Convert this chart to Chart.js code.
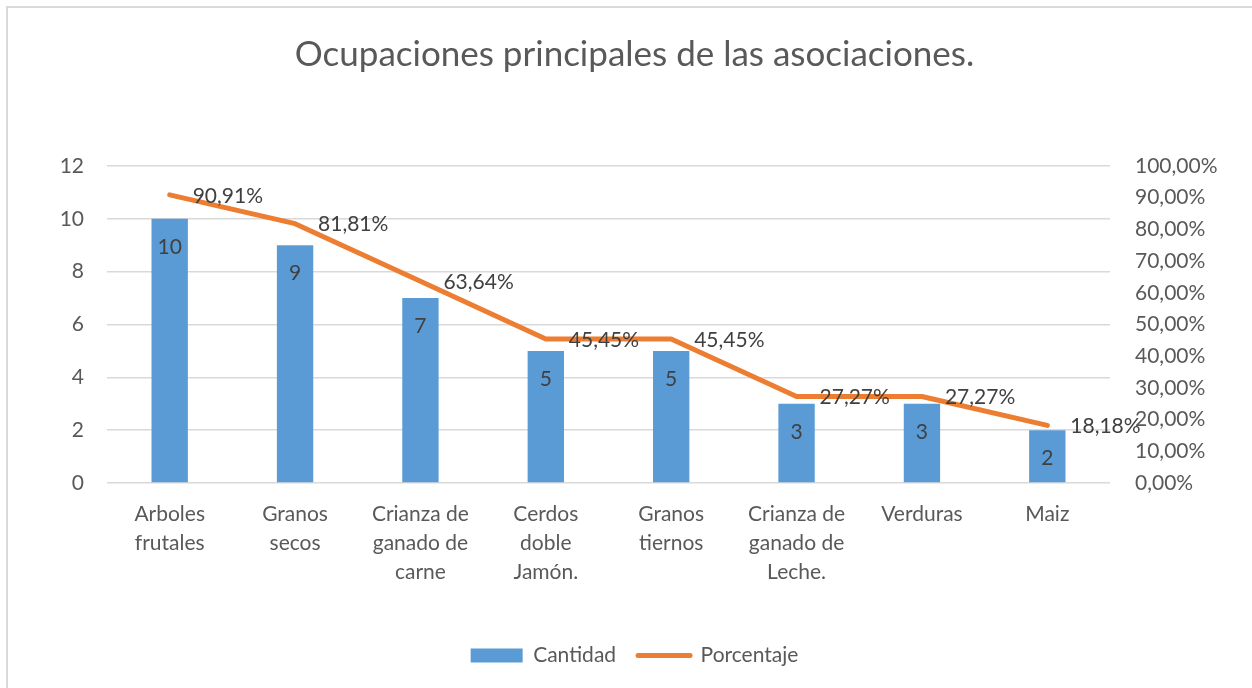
<!DOCTYPE html>
<html>
<head>
<meta charset="utf-8">
<script src="https://cdn.jsdelivr.net/npm/chart.js@4.4.1/dist/chart.umd.min.js"></script>
<style>
  html, body { margin: 0; padding: 0; background: #fff; overflow: hidden; }
  #frame {
    position: absolute; left: 6px; top: 6px; width: 1400px; height: 800px;
    border-left: 2px solid #d9d9d9; border-top: 2px solid #d9d9d9;
  }
  #wrap { position: absolute; left: 0; top: 0; width: 1252px; height: 688px; }
</style>
</head>
<body>
<div id="frame"></div>
<div id="wrap"><canvas id="chart" width="1252" height="688"></canvas></div>
<script>
  // ── Data ──
  var categories = [
    ["Arboles", "frutales"],
    ["Granos", "secos"],
    ["Crianza de", "ganado de", "carne"],
    ["Cerdos", "doble", "Jamón."],
    ["Granos", "tiernos"],
    ["Crianza de", "ganado de", "Leche."],
    ["Verduras"],
    ["Maiz"]
  ];
  var cantidad = [10, 9, 7, 5, 5, 3, 3, 2];
  var porcentaje = [90.91, 81.81, 63.64, 45.45, 45.45, 27.27, 27.27, 18.18];

  var FONT = "Lato, 'Open Sans', sans-serif";
  var TEXT = "#595959";
  var BLUE = "#5b9bd5";
  var ORANGE = "#ed7d31";

  function pct(v) {
    return v.toFixed(2).replace(".", ",") + "%";
  }

  // value labels on bars and line points
  var valueLabels = {
    id: "valueLabels",
    afterDatasetsDraw: function (chart) {
      var ctx = chart.ctx;
      ctx.save();
      ctx.font = "21px " + FONT;
      ctx.fillStyle = "#404040";
      ctx.textBaseline = "middle";

      var bars = chart.getDatasetMeta(0);
      ctx.textAlign = "center";
      bars.data.forEach(function (el, i) {
        ctx.fillText(String(cantidad[i]), el.x, el.y + 28);
      });

      var line = chart.getDatasetMeta(1);
      ctx.textAlign = "left";
      line.data.forEach(function (el, i) {
        ctx.fillText(pct(porcentaje[i]), el.x + 23, el.y + 1);
      });
      ctx.restore();
    }
  };

  new Chart(document.getElementById("chart"), {
    data: {
      labels: categories,
      datasets: [
        {
          type: "bar",
          label: "Cantidad",
          data: cantidad,
          backgroundColor: BLUE,
          borderWidth: 0,
          yAxisID: "y",
          categoryPercentage: 1,
          barPercentage: 0.29,
          order: 2
        },
        {
          type: "line",
          label: "Porcentaje",
          data: porcentaje,
          borderColor: ORANGE,
          backgroundColor: ORANGE,
          borderWidth: 5,
          borderCapStyle: "round",
          borderJoinStyle: "round",
          pointRadius: 0,
          tension: 0,
          yAxisID: "y1",
          order: 1
        }
      ]
    },
    options: {
      responsive: false,
      animation: false,
      layout: { padding: { left: 17, right: 0, top: 0, bottom: 12 } },
      plugins: {
        title: {
          display: true,
          text: "Ocupaciones principales de las asociaciones.",
          color: TEXT,
          font: { family: FONT, size: 35, weight: "normal", lineHeight: 1.2 },
          padding: { top: 34, bottom: 90 }
        },
        legend: {
          position: "bottom",
          labels: {
            color: TEXT,
            font: { family: FONT, size: 21 },
            usePointStyle: true,
            pointStyleWidth: 52,
            boxHeight: 14,
            padding: 22,
            generateLabels: function (chart) {
              return [
                { text: "Cantidad", fillStyle: BLUE, strokeStyle: BLUE, lineWidth: 0,
                  pointStyle: "rect", datasetIndex: 0, fontColor: TEXT },
                { text: "Porcentaje", fillStyle: ORANGE, strokeStyle: ORANGE, lineWidth: 5,
                  lineCap: "round", pointStyle: "line", datasetIndex: 1, fontColor: TEXT }
              ];
            }
          }
        },
        tooltip: { enabled: false }
      },
      scales: {
        x: {
          grid: { display: false, drawTicks: false },
          border: { display: false },
          ticks: {
            color: TEXT,
            font: { family: FONT, size: 21, lineHeight: 1.38 },
            padding: 17,
            maxRotation: 0,
            autoSkip: false
          },
          afterFit: function (scale) { scale.height = 140; }
        },
        y: {
          position: "left",
          min: 0,
          max: 12,
          grid: { color: "#d9d9d9", lineWidth: 1.5, drawTicks: false },
          border: { display: false },
          ticks: {
            stepSize: 2,
            color: TEXT,
            font: { family: FONT, size: 21 },
            padding: 23
          },
          afterFit: function (scale) { scale.width = 90; }
        },
        y1: {
          position: "right",
          min: 0,
          max: 100,
          grid: { display: false, drawTicks: false },
          border: { display: false },
          ticks: {
            stepSize: 10,
            color: TEXT,
            font: { family: FONT, size: 21 },
            padding: 25,
            callback: function (v) { return pct(v); }
          },
          afterFit: function (scale) { scale.width = 142; }
        }
      }
    },
    plugins: [valueLabels]
  });
</script>
</body>
</html>
